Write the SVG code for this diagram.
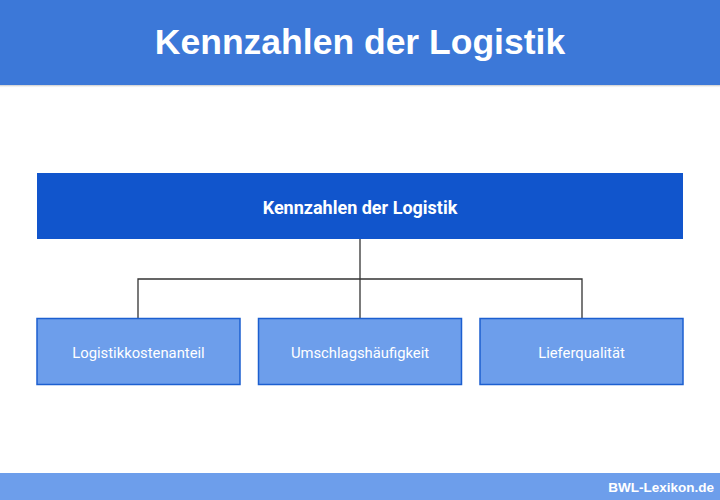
<svg xmlns="http://www.w3.org/2000/svg" width="720" height="500" viewBox="0 0 720 500">
<defs>
<style>
.title{font-family:"Liberation Sans",Arial,sans-serif;font-weight:bold;font-size:35.5px;fill:#ffffff;text-anchor:middle}
.main{font-family:Roboto,"Liberation Sans",sans-serif;font-weight:bold;font-size:18px;fill:#ffffff;text-anchor:middle}
.child{font-family:Roboto,"Liberation Sans",sans-serif;font-size:14.8px;fill:#ffffff;text-anchor:middle}
.childbox{fill:#6d9eeb;stroke:#1c5fd0;stroke-width:1.5}
.conn{fill:none;stroke:#333333;stroke-width:1.3}
.foot{font-family:"Liberation Sans",Arial,sans-serif;font-weight:bold;font-size:13.5px;fill:#ffffff;text-anchor:end}
</style>
<linearGradient id="sh" x1="0" y1="0" x2="0" y2="1">
<stop offset="0" stop-color="#9a9a9a"/>
<stop offset="1" stop-color="#ffffff" stop-opacity="0"/>
</linearGradient>
</defs>
<rect x="0" y="0" width="720" height="500" fill="#ffffff"/>
<g id="header">
<rect x="0" y="84" width="720" height="4" fill="url(#sh)"/>
<rect x="0" y="0" width="720" height="85" fill="#3c78d8"/>
<text class="title" x="360" y="54">Kennzahlen der Logistik</text>
</g>
<g id="connectors">
<path class="conn" d="M360,239 V318"/>
<path class="conn" d="M138,318 V279 H582 V318"/>
</g>
<g id="node-main">
<rect x="37" y="173" width="646" height="66" fill="#1155cc"/>
<text class="main" x="360" y="213.5">Kennzahlen der Logistik</text>
</g>
<g id="node-logistikkostenanteil">
<rect class="childbox" x="37" y="318.5" width="203" height="66"/>
<text class="child" x="138.5" y="358">Logistikkostenanteil</text>
</g>
<g id="node-umschlagshaeufigkeit">
<rect class="childbox" x="258.5" y="318.5" width="203" height="66"/>
<text class="child" x="360" y="358">Umschlagshäufigkeit</text>
</g>
<g id="node-lieferqualitaet">
<rect class="childbox" x="480" y="318.5" width="203" height="66"/>
<text class="child" x="581.5" y="358">Lieferqualität</text>
</g>
<g id="footer">
<rect x="0" y="473" width="720" height="27" fill="#6d9eeb"/>
<text class="foot" x="714" y="492">BWL-Lexikon.de</text>
</g>
</svg>
